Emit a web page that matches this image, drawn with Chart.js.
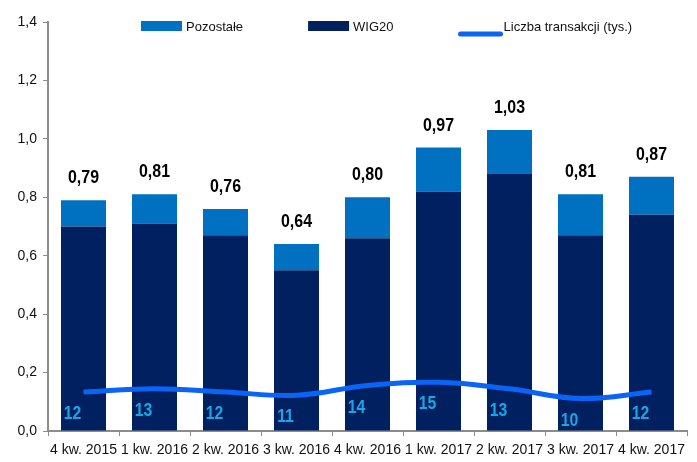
<!DOCTYPE html>
<html>
<head>
<meta charset="utf-8">
<script src="https://cdn.jsdelivr.net/npm/chart.js@4/dist/chart.umd.min.js"></script>
<style>
  html, body { margin: 0; padding: 0; background: #fff; }
  #wrap { width: 697px; height: 462px; }
</style>
</head>
<body>
<div id="wrap"><canvas id="chart" width="697" height="462"></canvas></div>
<script>
const categories = ['4 kw. 2015', '1 kw. 2016', '2 kw. 2016', '3 kw. 2016', '4 kw. 2016',
                    '1 kw. 2017', '2 kw. 2017', '3 kw. 2017', '4 kw. 2017'];
const wig20 = [0.70, 0.71, 0.67, 0.55, 0.66, 0.82, 0.88, 0.67, 0.74];
const pozostale = [0.09, 0.10, 0.09, 0.09, 0.14, 0.15, 0.15, 0.14, 0.13];
const transakcje = [12, 13, 12, 11, 14, 15, 13, 10, 12];
const yTicks = [0, 0.2, 0.4, 0.6, 0.8, 1.0, 1.2, 1.4];

const fmt = v => v.toFixed(2).replace('.', ',');

// condensed text, the original uses a narrow font
function narrowText(ctx, text, x, y, sx) {
    ctx.save();
    ctx.translate(x, y);
    ctx.scale(sx, 1);
    ctx.fillText(text, 0, 0);
    ctx.restore();
}

// stacked totals above bars + labels under the line
const labelsPlugin = {
    id: 'valueLabels',
    afterDatasetsDraw(chart) {
        const ctx = chart.ctx;
        const topMeta = chart.getDatasetMeta(1);
        const lineMeta = chart.getDatasetMeta(2);
        ctx.save();
        ctx.textAlign = 'center';
        ctx.textBaseline = 'alphabetic';
        ctx.font = 'bold 19px "Liberation Sans", Arial, sans-serif';
        ctx.fillStyle = '#000';
        topMeta.data.forEach((bar, i) => {
            narrowText(ctx, fmt(wig20[i] + pozostale[i]), bar.x, bar.y - 17, 0.84);
        });
        ctx.font = 'bold 18px "Liberation Sans", Arial, sans-serif';
        ctx.fillStyle = '#18A6E6';
        lineMeta.data.forEach((pt, i) => {
            narrowText(ctx, String(transakcje[i]), pt.x - 11, pt.y + 27, 0.88);
        });
        ctx.restore();
    }
};

const legendPlugin = {
    id: 'topLegend',
    afterDraw(chart) {
        const ctx = chart.ctx;
        const order = [1, 0, 2];
        let x = chart.chartArea.left + 93;
        const y = 26;
        ctx.save();
        ctx.font = '13px "Liberation Sans", Arial, sans-serif';
        ctx.textBaseline = 'middle';
        order.forEach(idx => {
            const ds = chart.data.datasets[idx];
            if (ds.type === 'line') {
                ctx.strokeStyle = ds.borderColor;
                ctx.lineWidth = 5;
                ctx.lineCap = 'round';
                ctx.beginPath();
                ctx.moveTo(x + 2, y + 8);
                ctx.lineTo(x + 42, y + 8);
                ctx.stroke();
            } else {
                ctx.fillStyle = ds.backgroundColor;
                ctx.fillRect(x, y - 5, 41, 10);
            }
            x += 45;
            ctx.fillStyle = '#111';
            ctx.fillText(ds.label, x, y + 1);
            x += ctx.measureText(ds.label).width + 65;
        });
        ctx.restore();
    }
};

const axisColor = '#8c8c8c';
const tickFont = { family: '"Liberation Sans", Arial, sans-serif', size: 14 };

new Chart(document.getElementById('chart'), {
    type: 'bar',
    data: {
        labels: categories,
        datasets: [
            { label: 'WIG20', data: wig20, backgroundColor: '#002060', stack: 's', order: 2 },
            { label: 'Pozostałe', data: pozostale, backgroundColor: '#0070C0', stack: 's', order: 2 },
            {
                label: 'Liczba transakcji (tys.)', type: 'line', data: transakcje, yAxisID: 'y1',
                borderColor: '#0A64F5', backgroundColor: '#0A64F5', borderWidth: 5,
                pointRadius: 0, tension: 0.4, order: 1
            }
        ]
    },
    options: {
        responsive: false,
        animation: false,
        layout: { padding: { top: 22, right: 10, left: 0, bottom: 0 } },
        datasets: { bar: { barPercentage: 0.634, categoryPercentage: 1 } },
        plugins: { legend: { display: false }, tooltip: { enabled: false } },
        scales: {
            x: {
                stacked: true,
                grid: { display: true, drawOnChartArea: false, tickLength: 5, color: axisColor },
                border: { color: axisColor, width: 2 },
                ticks: { color: '#111', font: tickFont, maxRotation: 0, autoSkip: false, padding: 6 },
                afterFit(scale) { scale.height = 31; }
            },
            y: {
                stacked: true,
                min: 0, max: 1.4,
                afterBuildTicks(scale) { scale.ticks = yTicks.map(v => ({ value: v })); },
                grid: { display: true, drawOnChartArea: false, tickLength: 5, color: axisColor },
                border: { color: axisColor, width: 2 },
                ticks: { color: '#111', font: tickFont, padding: 6, callback: v => v.toFixed(1).replace('.', ',') },
                afterFit(scale) { scale.width = 48; }
            },
            y1: { display: false, min: 0, max: 126 }
        }
    },
    plugins: [labelsPlugin, legendPlugin]
});
</script>
</body>
</html>
